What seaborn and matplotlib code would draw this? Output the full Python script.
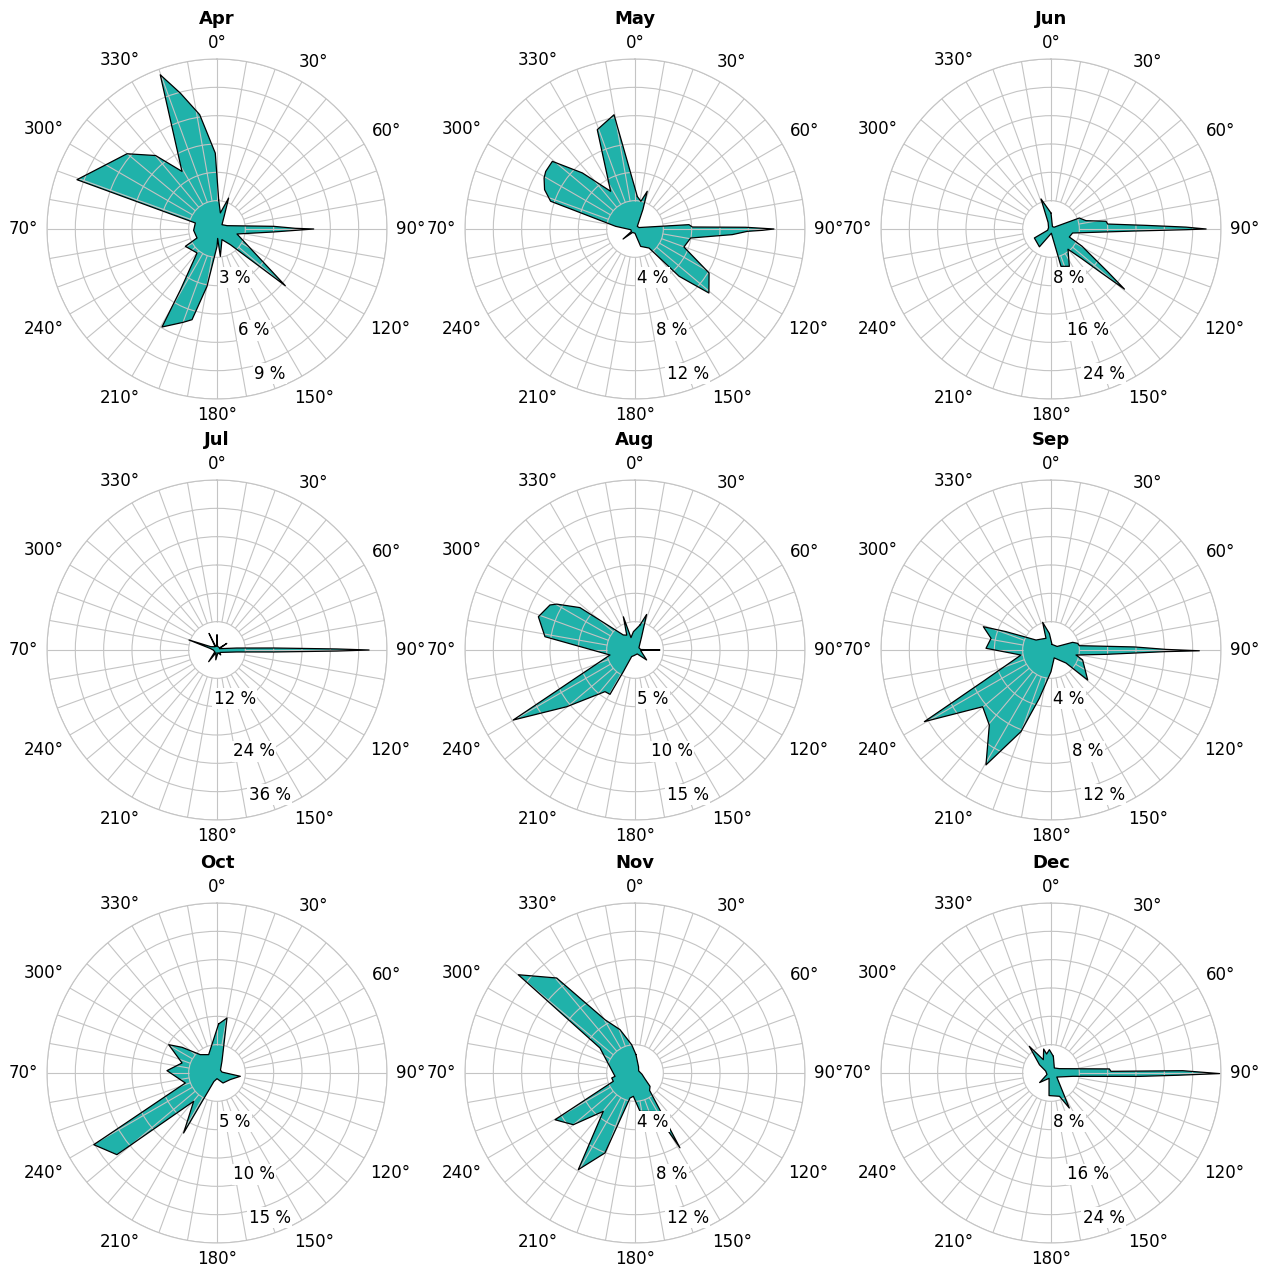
import numpy as np
import pandas as pd
import matplotlib
matplotlib.use("Agg")
import matplotlib.pyplot as plt
import seaborn as sns

# ---------------- data (direction in degrees, frequency in %) ----------------
months = ["Apr", "May", "Jun", "Jul", "Aug", "Sep", "Oct", "Nov", "Dec"]
scale_max = [9, 12, 24, 36, 15, 12, 15, 12, 24]

apr_deg = [3.3, 11.8, 20.6, 28.8, 49, 71.6, 87.3, 89.5, 90, 91, 93, 104, 129.7, 139.6, 155, 173, 176, 180,
           189.9, 195.4, 200, 209.3, 211, 219.8, 241.3, 245.8, 266.7, 285.5, 289.4, 300, 309.9, 320.1, 328.7,
           339.8, 344.9, 351.4, 358.7]
apr_pct = [1.55, 0.87, 1.75, 0.80, 0.35, 0.56, 3.0, 4.15, 5.12, 4.15, 3.0, 1.09, 4.70, 1.09, 0.62, 1.46, 0.5, 0.92,
           3.08, 4.98, 5.26, 5.95, 3.75, 1.65, 1.91, 1.16, 1.24, 1.19, 7.86, 6.8, 6.21, 5.07, 3.57,
           8.70, 7.45, 6.12, 4.02]

may_deg = [4.1, 12, 18, 22, 41, 70, 85.4, 88, 89.1, 90, 90.6, 91.2, 93.3, 99.2, 110.2, 120.7, 130.9, 137, 143.6,
           162, 180, 215, 230, 236, 260, 277.9, 288.2, 293.5, 299.3, 302.8, 309.3, 316.8, 327.1, 339.2, 349.6]
may_pct = [2.3, 2.0, 2.8, 1.5, 0.25, 0.3, 3.82, 4.05, 7.81, 9.81, 8.99, 7.93, 6.88, 3.98, 3.68, 6.08, 6.9, 4.56, 1.67,
           1.29, 0.3, 0.3, 1.1, 0.3, 0.3, 1.38, 6.27, 6.96, 7.36, 7.5, 7.54, 5.43, 3.17, 7.5, 8.2]

jun_deg = [0, 30, 60, 68.8, 76.6, 82, 85, 87.8, 89.2, 90, 90.3, 91.4, 100.5, 113.6, 119, 127, 129.3, 131, 134,
           140, 153.8, 165, 175, 213, 241.6, 250, 300, 336, 341.6]
jun_pct = [2.26, 0.4, 0.5, 4.29, 5.08, 7.84, 8.03, 13.4, 19.06, 21.9, 19.06, 11.77, 3.1, 2.82, 5.0, 10.0, 13.4, 9.5, 6.0,
           3.73, 5.87, 5.46, 0.6, 3.0, 2.67, 0.5, 0.4, 1.0, 4.47]

jul_deg = [0, 8, 50, 56, 62, 84.3, 88, 89.5, 90, 90.5, 92, 95.7, 130, 143, 160, 187, 200, 215.5, 230, 270, 283,
           289.7, 298, 330, 334.4, 340, 355]
jul_pct = [3.2, 0.8, 0.7, 2.5, 0.6, 4.2, 12.1, 25.4, 32.2, 25.4, 12.1, 4.2, 0.8, 1.3, 0.6, 2.1, 0.6, 3.04, 0.6, 0.8, 1.5,
           6.3, 1.5, 0.8, 3.9, 0.8, 0.8]

aug_deg = [11.3, 18.1, 26.6, 60, 85, 90, 95, 130.6, 150, 190, 207, 208.3, 209.4, 215.8, 230.3, 240.1, 258.7, 278.4,
           289, 297.9, 300.4, 307.6, 322.1, 331, 340.7, 342, 355]
aug_pct = [2.25, 3.3, 1.3, 0.4, 0.5, 2.2, 0.5, 1.35, 0.4, 0.5, 0.65, 2.17, 4.49, 4.53, 7.84, 12.4, 2.25, 8.03,
           9.02, 8.49, 8.0, 6.13, 1.68, 1.5, 3.1, 1.15, 1.62]

sep_deg = [10, 60, 70.5, 76, 81.3, 87.9, 89.7, 90.3, 90.8, 94.5, 101.3, 107.5, 129.3, 131, 158, 180, 193.6, 200.2,
           209.5, 219.4, 230.3, 240.5, 245.1, 260.5, 271.5, 281, 289, 292.2, 303.7, 336.8, 343.2, 354.3]
sep_pct = [0.4, 0.5, 1.62, 1.94, 2.02, 5.89, 8.12, 10.47, 8.12, 3.9, 1.8, 2.34, 3.35, 1.4, 0.6, 1.53, 3.51, 6.14,
           9.32, 6.86, 6.27, 10.27, 5.32, 2.15, 4.59, 4.31, 5.05, 3.43, 1.27, 0.9, 2.04, 1.18]

oct_deg = [1.9, 10.3, 23, 50, 80, 98, 116.6, 149, 180, 200, 209.1, 219.5, 230.8, 239.8, 252.5, 272.7, 286, 300.4,
           306.3, 317.7, 335.6]
oct_pct = [4.33, 4.93, 1.12, 0.4, 0.45, 2.08, 1.3, 1.03, 0.5, 0.8, 6.06, 3.24, 11.4, 12.58, 2.93, 4.42, 3.21, 4.94,
           3.83, 2.19, 1.78]

nov_deg = [3, 30, 60, 100, 120, 131.6, 140, 149, 153, 172.6, 184, 191.3, 200.6, 210.4, 219.6, 230, 239.7, 249,
           257.9, 260.5, 305.5, 310.1, 320.5, 330.6, 340.9, 353.3]
nov_pct = [1.3, 0.5, 0.3, 0.5, 0.8, 1.42, 1.6, 6.16, 3.05, 2.73, 1.65, 1.8, 6.03, 7.91, 3.51, 5.68, 6.54, 1.64,
           1.68, 1.43, 3.04, 10.77, 8.69, 4.32, 3.24, 2.01]

dec_deg = [8, 33.7, 62.5, 86, 88.4, 89, 90.2, 91, 92.2, 98.7, 125, 152.4, 160, 185, 200, 230, 250, 290, 305.5,
           320.9, 330, 343, 347, 356]
dec_pct = [2.38, 0.85, 1.33, 8.25, 8.47, 18.6, 23.8, 18.0, 12.5, 3.1, 1.0, 5.58, 3.5, 3.2, 0.8, 2.1, 0.6, 0.8, 2.0,
           4.85, 2.17, 3.54, 2.75, 3.3]

direction_labels = ["0°", "30°", "60°", "90°", "120°", "150°", "180°", "210°", "240°", "70°", "300°", "330°"]

series = {
    "Apr": (apr_deg, apr_pct), "May": (may_deg, may_pct), "Jun": (jun_deg, jun_pct),
    "Jul": (jul_deg, jul_pct), "Aug": (aug_deg, aug_pct), "Sep": (sep_deg, sep_pct),
    "Oct": (oct_deg, oct_pct), "Nov": (nov_deg, nov_pct), "Dec": (dec_deg, dec_pct),
}

# ---------------- style ----------------
sns.set_theme(style="white")
plt.rcParams["font.family"] = ["DejaVu Sans"]
plt.rcParams["text.color"] = "black"

TEAL = "#20b2aa"
GRID = "#c4c4c4"
W, H = 1270, 1272
R = 170
col_x = [217, 635, 1051]
row_y = [229, 650, 1073]

fig = plt.figure(figsize=(W / 100, H / 100), dpi=100)
fig.patch.set_facecolor("white")

for i, m in enumerate(months):
    cx, cy = col_x[i % 3], row_y[i // 3]
    ax = fig.add_axes([(cx - R) / W, 1 - (cy + R) / H, 2 * R / W, 2 * R / H], projection="polar")
    vmax = scale_max[i]
    ax.set_theta_zero_location("N")
    ax.set_theta_direction(-1)
    ax.set_facecolor("white")

    rings = np.arange(1, 7) * vmax / 6
    ax.set_xticks([])
    ax.set_yticks(rings)
    ax.set_yticklabels([])
    ax.yaxis.grid(True, color=GRID, lw=0.8)
    ax.xaxis.grid(False)
    ax.set_axisbelow("line")
    ax.spines["polar"].set_color(GRID)
    ax.spines["polar"].set_linewidth(0.8)

    # radial spokes every 10 degrees, starting at the inner ring
    ax.vlines(np.deg2rad(np.arange(0, 360, 10)), rings[0], vmax, colors=GRID, lw=0.8, zorder=1.5)

    deg, pct = series[m]
    th = np.deg2rad(np.r_[deg, deg[0]])
    rr = np.r_[pct, pct[0]]
    ax.fill(th, rr, facecolor=TEAL, edgecolor="none", zorder=1)
    df = pd.DataFrame({"theta": th, "r": rr})
    sns.lineplot(data=df, x="theta", y="r", sort=False, estimator=None, color="black",
                 lw=0.9, ax=ax, zorder=2.5)
    ax.set_xlabel("")
    ax.set_ylabel("")
    ax.set_ylim(0, vmax)

    # direction labels
    for k, lab in enumerate(direction_labels):
        a = np.deg2rad(30 * k)
        hw = 5 * len(lab)
        rpx = 179 + abs(np.sin(a)) * hw + abs(np.cos(a)) * 7
        ax.text(a, rpx / R * vmax, lab, ha="center", va="center", fontsize=12, color="black",
                clip_on=False)

    # percentage labels along 160 degrees
    for frac, step in zip([0.305, 0.635, 0.905], [2, 4, 6]):
        val = int(round(step * vmax / 6))
        ax.text(np.deg2rad(160), frac * vmax, f"{val} %", ha="center", va="center", fontsize=12,
                color="black", zorder=5,
                bbox=dict(boxstyle="square,pad=0.08", fc="white", ec="none"))

    ax.text(0.5, 0.5 + 205 / (2 * R), m, transform=ax.transAxes, ha="center", va="baseline",
            fontsize=13, fontweight="bold", color="black")

fig.savefig("out.png", dpi=100, facecolor="white")
